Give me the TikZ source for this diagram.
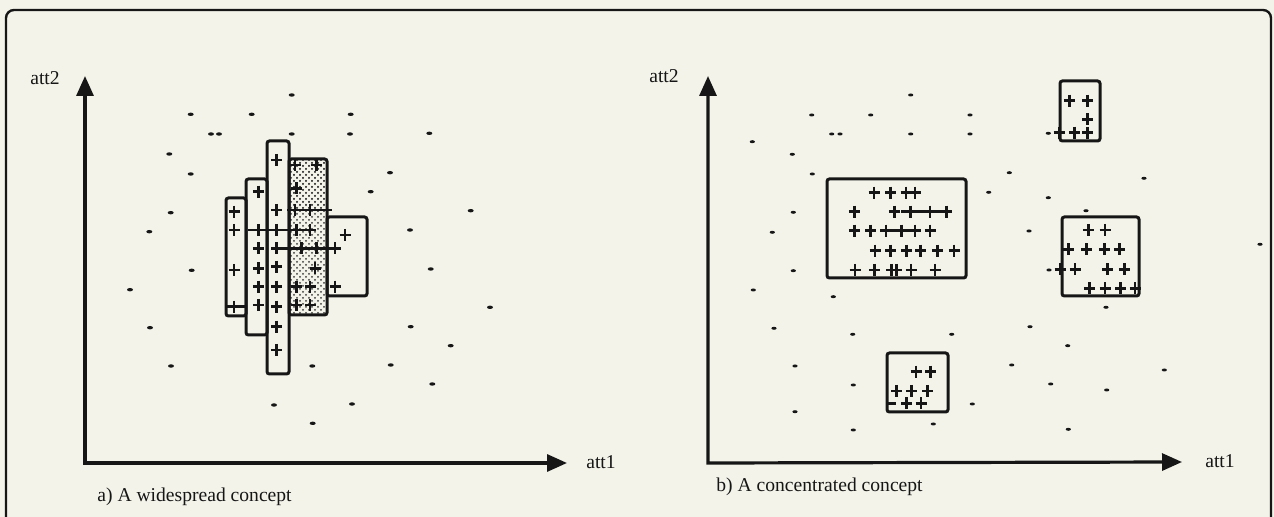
\documentclass[tikz,border=0pt]{standalone}
\usepackage{fontspec}
\setmainfont{Liberation Serif}
\usetikzlibrary{arrows.meta,patterns}
\definecolor{paper}{RGB}{243,243,234}
\definecolor{ink}{RGB}{22,22,22}
\begin{document}
\begin{tikzpicture}[x=0.5pt,y=-0.5pt,
  axis/.style={line width=1.6pt, draw=ink, {Triangle[length=10pt,width=8.5pt]}-{Triangle[length=10pt,width=8.5pt]}},
  box/.style={line width=1.5pt, draw=ink, rounded corners=1.2pt},
  plusline/.style={line width=1.35pt, draw=ink},
  lbl/.style={font=\fontsize{9.8pt}{11pt}\selectfont, text=ink, inner sep=0pt}]
\fill[paper] (0,0) rectangle (1274,517);
\useasboundingbox (0,0) rectangle (1274,517);
% frame
\draw[line width=1.2pt, draw=ink, rounded corners=4pt] (6,517) -- (6,10) -- (1271,10) -- (1271,517);

% ---------------- panel a ----------------
\coordinate (Ao) at (85,463);
\coordinate (Ay) at (85,76);
\coordinate (Ax) at (567,463);
\draw[axis] (Ay) -- (Ao) -- (Ax);
\node[lbl] (a2) at (45,78) {att2};
\node[lbl] (a1) at (601,462) {att1};
\node[lbl, anchor=west] (capa) at (97,497) {a) A widespread concept};

% dots
\foreach \x/\y in {291.7/95, 190.7/114.3, 251.7/114.3, 350.7/114.3, 211/134, 219/134, 291.7/134, 350/134, 429.3/133.3, 169.3/154, 190.7/174, 390/172.7, 370.7/191.7, 170.7/212.7, 470.7/210.7, 149.3/231.7, 410/230, 191.7/270.3, 430.7/269, 130/289.7, 490/307.3, 150/327.7, 410.7/326.7, 450.7/345.7, 171/366, 312.3/366, 390.7/365, 432.3/384, 274/405, 352/404, 312.7/423.3}
  \fill[ink] (\x,\y) ellipse [x radius=1.5pt, y radius=0.85pt];

% boxes
\fill[pattern=crosshatch dots, pattern color=ink!85] (289,159) rectangle (327,315);
\fill[pattern=crosshatch dots, pattern color=ink!85, xshift=0.75pt, yshift=0.75pt] (290,160) rectangle (326,214);
\draw[box] (226,198) rectangle (246,316);
\draw[box] (246,179) rectangle (267,335);
\draw[box] (267,141) rectangle (289,374);
\draw[box] (289,159) rectangle (327,315);
\draw[box] (327,217) rectangle (367,296);

% joined rows
\draw[plusline] (248,230) -- (313,230);
\draw[plusline] (272,248.3) -- (338,248.3);
\draw[plusline] (287,210) -- (332,210);
\draw[plusline] (227,306.7) -- (245,306.7);

% pluses
\foreach \x/\y in {234/211.7, 234/230, 234/270, 234/306.7,
  258.3/191.7, 258.3/230, 258.3/248.3, 258.3/268.3, 258.3/286.7, 258.3/305,
  276.7/160, 276.7/210, 276.7/230, 276.7/248.3, 276.7/266.7, 276.7/286.7, 276.7/306.7, 276.7/326.7, 276.7/350,
  295/165, 316.7/165, 296.7/188.3, 295/210, 310/210, 296.7/230, 310/230,
  301.7/248.3, 316.7/248.3, 335/248.3, 315/268.3, 296.7/286.7, 310/286.7, 296.7/305, 310/305,
  345/235, 335/286.7}
  \draw[plusline] (\x-5.5,\y) -- (\x+5.5,\y) (\x,\y-6) -- (\x,\y+6);

% ---------------- panel b ----------------
\coordinate (Bo) at (708,463);
\coordinate (By) at (708,76);
\coordinate (Bx) at (1182,462);
\draw[axis] (By) -- (Bo) -- (Bx);
\node[lbl] (b2) at (664,76) {att2};
\node[lbl] (b1) at (1220,461) {att1};
\node[lbl, anchor=west] (capb) at (716,487) {b) A concentrated concept};

\foreach \x/\y in {910.7/95, 811.7/115, 870.7/115, 970/115, 831.7/134, 840/134, 910.7/134, 970/134, 752.3/141.7, 792.3/154.3, 812.3/174, 988.7/192.3, 793.3/212.3, 772.3/232.3, 793.3/270.7, 753.3/290, 833.3/296.7, 774/328.3, 852.7/334.3, 951.7/334.3, 795/366, 853.3/385, 972.3/404, 795/411.7, 933.3/424, 853.3/430,
  1048.3/133.3, 1009.3/172.7, 1144/178.3, 1048.3/197.7, 1086/210.7, 1029/231, 1260/244.3, 1049/270, 1106/307.3, 1030/326.7, 1067.7/345.7, 1011.7/365, 1164.3/370, 1050.7/384, 1106.7/390, 1068.3/429.3}
  \fill[ink] (\x,\y) ellipse [x radius=1.3pt, y radius=0.75pt];

\draw[box] (827,179) rectangle (966,278);
\draw[box] (1060,81) rectangle (1100,141);
\draw[box] (1062,217) rectangle (1139,296);
\draw[box] (887,353) rectangle (948,412);

\draw[plusline] (888,403.3) -- (896,403.3);
\draw[plusline] (901,211.7) -- (952,211.7);
\draw[plusline] (880,230.7) -- (921,230.7);

\foreach \x/\y in {874/192.7, 890.7/192.7, 906/192.7, 915/192.7,
  854.3/211.7, 894.3/211.7, 910.7/211.7, 930/211.7, 946.7/211.7,
  854.3/230.7, 870.7/230.7, 886/230.7, 901.7/230.7, 915/230.7, 930/230.7,
  875/250.7, 890.7/250.7, 906.7/250.7, 920.7/250.7, 937.3/250.7, 954/250.7,
  855/270, 874.3/270, 891.7/270, 896.7/270, 911/270, 935/270,
  1069.3/100.7, 1087.7/100.7, 1087.7/119.3, 1059/132.7, 1074.3/132.7, 1087.7/132.7,
  1088.3/230, 1105/230, 1068.3/249.3, 1086.7/249.3, 1104.3/249.3, 1119.3/249.3,
  1060/269.3, 1075/269.3, 1107.7/269.3, 1124.3/269.3,
  1089.3/288.3, 1105/288.3, 1120.7/288.3, 1135/288.3,
  916/371.7, 930.7/371.7, 896.7/391, 911.7/391, 927.7/391, 906.7/403.3, 921/403.3}
  \draw[plusline] (\x-5.5,\y) -- (\x+5.5,\y) (\x,\y-6) -- (\x,\y+6);
\end{tikzpicture}
\end{document}
